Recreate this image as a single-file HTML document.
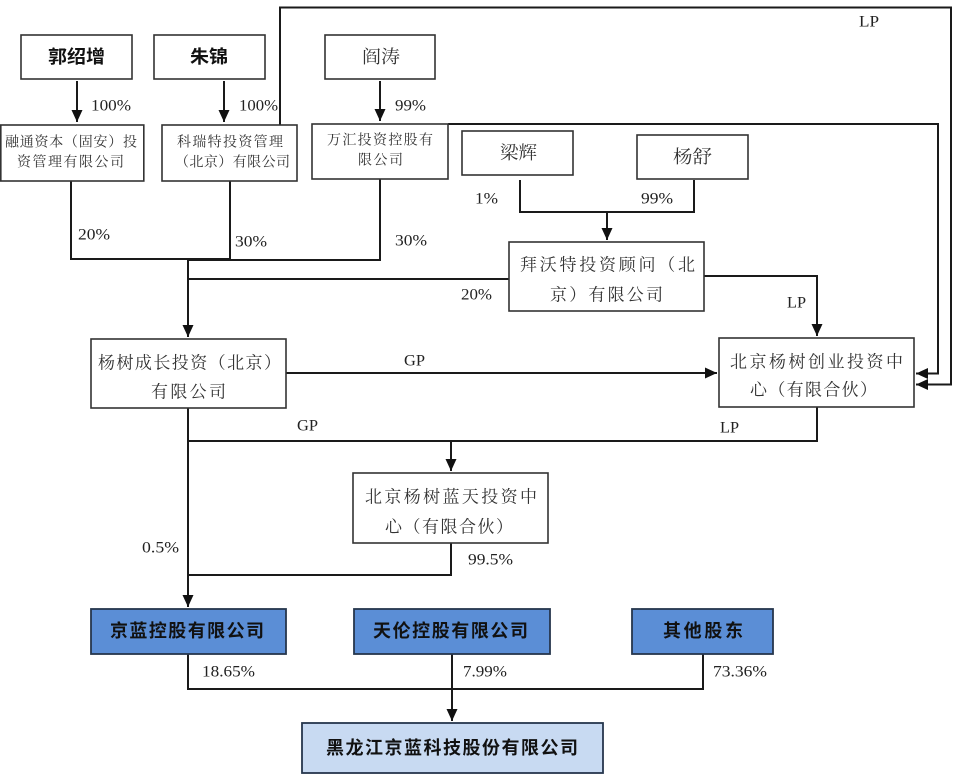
<!DOCTYPE html>
<html><head><meta charset="utf-8">
<style>
html,body{margin:0;padding:0;background:#fff;}
svg{display:block;}
.s{font-family:"Liberation Serif","Noto Serif CJK SC",serif;fill:#333;}
.b{font-family:"Liberation Sans","Noto Sans CJK SC",sans-serif;font-weight:700;fill:#111;}
.p{font-family:"Liberation Serif",serif;fill:#222;font-size:16px;}
.ln{stroke:#1a1a1a;stroke-width:2;fill:none;}
.bx{fill:#fff;stroke:#333;stroke-width:1.6;}
.bl{fill:#5b8ed6;stroke:#26364d;stroke-width:1.8;}
.lb{fill:#c8daf2;stroke:#26364d;stroke-width:1.8;}
</style></head>
<body>
<svg width="960" height="781" viewBox="0 0 960 781" xmlns="http://www.w3.org/2000/svg">
<defs>
<marker id="ah" viewBox="0 0 12 11" refX="12" refY="5.5" markerWidth="12" markerHeight="11" markerUnits="userSpaceOnUse" orient="auto">
<path d="M0,0 L12,5.5 L0,11 z" fill="#111"/>
</marker>
</defs>

<!-- top arrows -->
<line class="ln" x1="77" y1="81" x2="77" y2="122" marker-end="url(#ah)"/>
<line class="ln" x1="224" y1="81" x2="224" y2="122" marker-end="url(#ah)"/>
<line class="ln" x1="380" y1="81" x2="380" y2="121" marker-end="url(#ah)"/>

<!-- outer LP frame lines -->
<polyline class="ln" points="280,125 280,7.5 951,7.5 951,384.5 916,384.5" marker-end="url(#ah)"/>
<polyline class="ln" points="448,124 938,124 938,373.5 916,373.5" marker-end="url(#ah)"/>

<!-- ownership into 杨树成长 -->
<polyline class="ln" points="71,181 71,259 230,259"/>
<line class="ln" x1="230" y1="181" x2="230" y2="260"/>
<polyline class="ln" points="380,179 380,260 188,260"/>
<line class="ln" x1="188" y1="259" x2="188" y2="337" marker-end="url(#ah)"/>
<line class="ln" x1="188" y1="279" x2="509" y2="279"/>

<!-- 梁辉 / 杨舒 -->
<polyline class="ln" points="520,180 520,212 694,212 694,180"/>
<line class="ln" x1="607" y1="212" x2="607" y2="240" marker-end="url(#ah)"/>

<!-- 拜沃特 LP -->
<polyline class="ln" points="704,276 817,276 817,336" marker-end="url(#ah)"/>

<!-- GP to 创业 -->
<line class="ln" x1="286" y1="373" x2="717" y2="373" marker-end="url(#ah)"/>

<!-- lower -->
<line class="ln" x1="188" y1="408" x2="188" y2="607" marker-end="url(#ah)"/>
<polyline class="ln" points="188,441 817,441 817,407"/>
<line class="ln" x1="451" y1="441" x2="451" y2="471" marker-end="url(#ah)"/>
<polyline class="ln" points="451,543 451,575 188,575"/>

<!-- bottom -->
<polyline class="ln" points="188,654 188,689 703,689 703,654"/>
<line class="ln" x1="452" y1="654" x2="452" y2="721" marker-end="url(#ah)"/>

<!-- boxes -->
<rect class="bx" x="21" y="35" width="111" height="44"/>
<rect class="bx" x="154" y="35" width="111" height="44"/>
<rect class="bx" x="325" y="35" width="110" height="44"/>

<rect class="bx" x="0.8" y="125" width="143" height="56"/>
<rect class="bx" x="162" y="125" width="135" height="56"/>
<rect class="bx" x="312" y="124" width="136" height="55"/>

<rect class="bx" x="462" y="131" width="111" height="44"/>
<rect class="bx" x="637" y="135" width="111" height="44"/>

<rect class="bx" x="509" y="242" width="195" height="69"/>
<rect class="bx" x="719" y="338" width="195" height="69"/>
<rect class="bx" x="91" y="339" width="195" height="69"/>
<rect class="bx" x="353" y="473" width="195" height="70"/>

<rect class="bl" x="91" y="609" width="195" height="45"/>
<rect class="bl" x="354" y="609" width="196" height="45"/>
<rect class="bl" x="632" y="609" width="141" height="45"/>
<rect class="lb" x="302" y="723" width="301" height="50"/>

<!-- texts -->
<text class="b" x="48" y="57" dominant-baseline="central" font-size="18" textLength="57" lengthAdjust="spacingAndGlyphs">郭绍增</text>
<text class="b" x="190" y="57" dominant-baseline="central" font-size="18" textLength="38" lengthAdjust="spacingAndGlyphs">朱锦</text>
<text class="s" x="362" y="57" dominant-baseline="central" font-size="18" textLength="38" lengthAdjust="spacingAndGlyphs">阎涛</text>

<text class="p" x="91" y="106" dominant-baseline="central" textLength="40" lengthAdjust="spacingAndGlyphs">100%</text>
<text class="p" x="239" y="106" dominant-baseline="central" textLength="39" lengthAdjust="spacingAndGlyphs">100%</text>
<text class="p" x="395" y="106" dominant-baseline="central" textLength="31" lengthAdjust="spacingAndGlyphs">99%</text>

<text class="s" x="5" y="143" dominant-baseline="central" font-size="14" textLength="132" lengthAdjust="spacing">融通资本（固安）投</text>
<text class="s" x="17" y="163" dominant-baseline="central" font-size="14" textLength="107" lengthAdjust="spacing">资管理有限公司</text>
<text class="s" x="177" y="143" dominant-baseline="central" font-size="14" textLength="106" lengthAdjust="spacing">科瑞特投资管理</text>
<text class="s" x="175" y="163" dominant-baseline="central" font-size="14" textLength="115" lengthAdjust="spacing">（北京）有限公司</text>
<text class="s" x="327" y="141" dominant-baseline="central" font-size="14" textLength="106" lengthAdjust="spacing">万汇投资控股有</text>
<text class="s" x="358" y="161" dominant-baseline="central" font-size="14" textLength="45" lengthAdjust="spacing">限公司</text>

<text class="p" x="78" y="235" dominant-baseline="central" textLength="32" lengthAdjust="spacingAndGlyphs">20%</text>
<text class="p" x="235" y="242" dominant-baseline="central" textLength="32" lengthAdjust="spacingAndGlyphs">30%</text>
<text class="p" x="395" y="241" dominant-baseline="central" textLength="32" lengthAdjust="spacingAndGlyphs">30%</text>

<text class="s" x="500" y="153" dominant-baseline="central" font-size="18" textLength="37" lengthAdjust="spacingAndGlyphs">梁辉</text>
<text class="s" x="673" y="157" dominant-baseline="central" font-size="18" textLength="39" lengthAdjust="spacingAndGlyphs">杨舒</text>
<text class="p" x="475" y="199" dominant-baseline="central" textLength="23" lengthAdjust="spacingAndGlyphs">1%</text>
<text class="p" x="641" y="199" dominant-baseline="central" textLength="32" lengthAdjust="spacingAndGlyphs">99%</text>

<text class="p" x="859" y="22" dominant-baseline="central" textLength="20" lengthAdjust="spacingAndGlyphs">LP</text>

<text class="s" x="520" y="265" dominant-baseline="central" font-size="17" textLength="175" lengthAdjust="spacing">拜沃特投资顾问（北</text>
<text class="s" x="550" y="295" dominant-baseline="central" font-size="17" textLength="113" lengthAdjust="spacing">京）有限公司</text>
<text class="p" x="461" y="295" dominant-baseline="central" textLength="31" lengthAdjust="spacingAndGlyphs">20%</text>
<text class="p" x="787" y="303" dominant-baseline="central" textLength="19" lengthAdjust="spacingAndGlyphs">LP</text>

<text class="s" x="730" y="362" dominant-baseline="central" font-size="17" textLength="173" lengthAdjust="spacing">北京杨树创业投资中</text>
<text class="s" x="750" y="390" dominant-baseline="central" font-size="17" textLength="127" lengthAdjust="spacing">心（有限合伙）</text>

<text class="s" x="98" y="363" dominant-baseline="central" font-size="17" textLength="183" lengthAdjust="spacing">杨树成长投资（北京）</text>
<text class="s" x="151" y="392" dominant-baseline="central" font-size="17" textLength="75" lengthAdjust="spacing">有限公司</text>

<text class="p" x="404" y="361" dominant-baseline="central" textLength="21" lengthAdjust="spacingAndGlyphs">GP</text>
<text class="p" x="297" y="426" dominant-baseline="central" textLength="21" lengthAdjust="spacingAndGlyphs">GP</text>
<text class="p" x="720" y="428" dominant-baseline="central" textLength="19" lengthAdjust="spacingAndGlyphs">LP</text>

<text class="s" x="365" y="497" dominant-baseline="central" font-size="17" textLength="172" lengthAdjust="spacing">北京杨树蓝天投资中</text>
<text class="s" x="385" y="527" dominant-baseline="central" font-size="17" textLength="128" lengthAdjust="spacing">心（有限合伙）</text>

<text class="p" x="142" y="548" dominant-baseline="central" textLength="37" lengthAdjust="spacingAndGlyphs">0.5%</text>
<text class="p" x="468" y="560" dominant-baseline="central" textLength="45" lengthAdjust="spacingAndGlyphs">99.5%</text>

<text class="b" x="110" y="631" dominant-baseline="central" font-size="18" textLength="154" lengthAdjust="spacing">京蓝控股有限公司</text>
<text class="b" x="373" y="631" dominant-baseline="central" font-size="18" textLength="155" lengthAdjust="spacing">天伦控股有限公司</text>
<text class="b" x="663" y="631" dominant-baseline="central" font-size="18" textLength="80" lengthAdjust="spacing">其他股东</text>

<text class="p" x="202" y="672" dominant-baseline="central" textLength="53" lengthAdjust="spacingAndGlyphs">18.65%</text>
<text class="p" x="463" y="672" dominant-baseline="central" textLength="44" lengthAdjust="spacingAndGlyphs">7.99%</text>
<text class="p" x="713" y="672" dominant-baseline="central" textLength="54" lengthAdjust="spacingAndGlyphs">73.36%</text>

<text class="b" x="326" y="748" dominant-baseline="central" font-size="18" textLength="252" lengthAdjust="spacing">黑龙江京蓝科技股份有限公司</text>
</svg>
</body></html>
